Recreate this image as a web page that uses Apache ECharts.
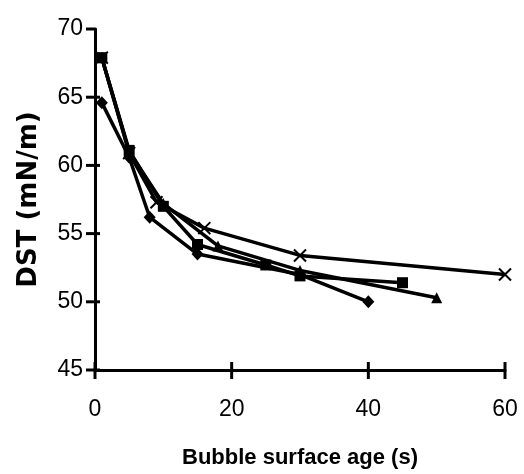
<!DOCTYPE html>
<html>
<head>
<meta charset="utf-8">
<script src="https://cdn.jsdelivr.net/npm/echarts@6/dist/echarts.min.js"></script>
<style>html,body{margin:0;padding:0;background:#fff}#c{width:524px;height:474px}</style>
</head>
<body>
<div id="c"></div>
<script>
var xTicks = [0, 20, 40, 60];
var yTicks = [45, 50, 55, 60, 65, 70];
var diamondSeries = [[1, 64.6], [5, 60.6], [8, 56.2], [15, 53.5], [30, 52.0], [40, 50.0]];
var squareSeries = [[1, 67.9], [5, 61.1], [10, 57.0], [15, 54.2], [25, 52.7], [30, 51.9], [45, 51.4]];
var triangleSeries = [[1, 67.9], [5, 61.0], [10, 57.2], [18, 54.1], [30, 52.3], [50, 50.3]];
var crossSeries = [[1, 67.9], [5, 60.9], [9, 57.3], [16, 55.4], [30, 53.4], [60, 52.0]];

var FONT = 'Liberation Sans, Arial, sans-serif';
var xMin = xTicks[0], xMax = xTicks[xTicks.length - 1];
var yMin = yTicks[0], yMax = yTicks[yTicks.length - 1];
var chart = echarts.init(document.getElementById('c'), null, {renderer: 'canvas'});
function mkSeries(data, symbol, size, extra) {
  return Object.assign({
    type: 'line', data: data, symbol: symbol, symbolSize: size,
    lineStyle: {color: '#000', width: 3.5},
    itemStyle: {color: '#000'},
    animation: false, z: 3
  }, extra || {});
}
var tickStyle = {stroke: '#000', lineWidth: 3};
chart.setOption({
  animation: false,
  backgroundColor: '#fff',
  grid: {left: 95, right: 19, top: 29, bottom: 104, containLabel: false, outerBoundsMode: 'none'},
  xAxis: {
    type: 'value', min: xMin, max: xMax, interval: 20,
    axisLine: {show: true, onZero: false, lineStyle: {color: '#000', width: 3}},
    axisTick: {show: false},
    axisLabel: {color: '#000', fontSize: 23, fontFamily: FONT, margin: 28},
    splitLine: {show: false},
    name: 'Bubble surface age (s)', nameLocation: 'middle', nameGap: 77,
    nameTextStyle: {color: '#000', fontSize: 22, fontWeight: 'bold', fontFamily: FONT}
  },
  yAxis: {
    type: 'value', min: yMin, max: yMax, interval: 5,
    axisLine: {show: true, onZero: false, lineStyle: {color: '#000', width: 3}},
    axisTick: {show: false},
    axisLabel: {color: '#000', fontSize: 23, fontFamily: FONT, margin: 12},
    splitLine: {show: false},
    name: 'DST (mN/m)', nameLocation: 'middle', nameGap: 53,
    nameTextStyle: {color: '#000', fontSize: 26, fontWeight: 'bold', fontFamily: 'DejaVu Sans, sans-serif'}
  },
  series: [
    {
      type: 'custom', clip: false, silent: true, z: 2,
      data: xTicks.map(function (v) { return [v, yMin]; }),
      renderItem: function (params, api) {
        var c = api.coord([api.value(0), api.value(1)]);
        return {type: 'line', shape: {x1: c[0], y1: c[1] - 8, x2: c[0], y2: c[1] + 9}, style: tickStyle};
      }
    },
    {
      type: 'custom', clip: false, silent: true, z: 2,
      data: yTicks.map(function (v) { return [xMin, v]; }),
      renderItem: function (params, api) {
        var v = api.value(1);
        var c = api.coord([api.value(0), v]);
        var right = v === yMax ? 0 : 5;
        return {type: 'line', shape: {x1: c[0] - 9, y1: c[1], x2: c[0] + right, y2: c[1]}, style: tickStyle};
      }
    },
    mkSeries(diamondSeries, 'diamond', [12, 13]),
    mkSeries(squareSeries, 'rect', 11),
    mkSeries(triangleSeries, 'triangle', 11),
    mkSeries(crossSeries, 'path://M0,0L10,10M10,0L0,10', 12, {
      itemStyle: {color: 'none', borderColor: '#000', borderWidth: 2}
    })
  ]
});
</script>
</body>
</html>
